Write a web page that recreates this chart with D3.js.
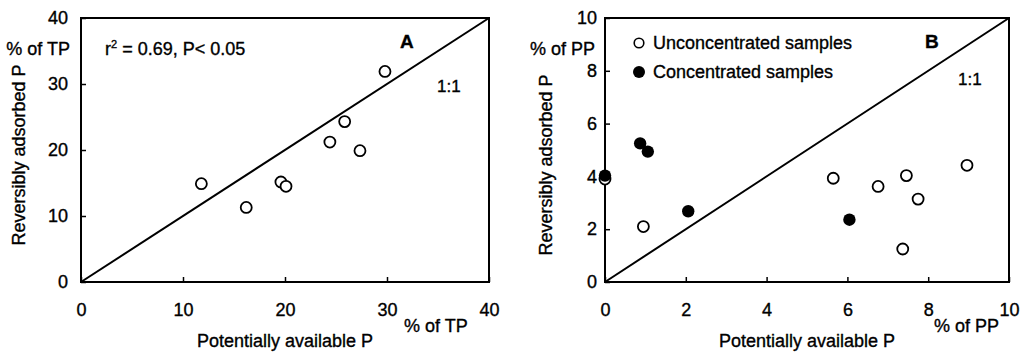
<!DOCTYPE html>
<html>
<head>
<meta charset="utf-8">
<script src="https://d3js.org/d3.v7.min.js"></script>
<style>
  body { margin: 0; background: #fff; }
  text { font-family: "Liberation Sans", Arial, sans-serif; fill: #000; stroke: #000; stroke-width: 0.35px; }
  .axis path { display: none; }
  .axis line { stroke: #000; stroke-width: 1.5; }
  .axis text { font-size: 18px; }
</style>
</head>
<body>
<svg id="chart" width="1028" height="352"></svg>
<script>
// panel A - % of TP
var aTicks = [0, 10, 20, 30, 40];
var aX = [11.8, 16.2, 19.6, 20.1, 24.4, 25.85, 27.35, 29.8];
var aY = [14.9, 11.3, 15.15, 14.5, 21.2, 24.3, 19.9, 31.9];

// panel B - % of PP
var bTicks = [0, 2, 4, 6, 8, 10];
var bOpenX = [0, 0.95, 5.65, 6.76, 7.46, 7.75, 7.37, 8.96];
var bOpenY = [3.9, 2.1, 3.93, 3.62, 4.03, 3.14, 1.25, 4.42];
var bFillX = [0, 0.87, 1.06, 2.06, 6.05];
var bFillY = [4.03, 5.25, 4.94, 2.68, 2.36];

var svg = d3.select("#chart");

function panel(opt) {
  var x = d3.scaleLinear().domain([0, opt.max]).range([opt.left, opt.right]);
  var y = d3.scaleLinear().domain([0, opt.max]).range([opt.bottom, opt.top]);
  var g = svg.append("g");

  // axes (inner ticks)
  g.append("g").attr("class", "axis")
    .attr("transform", "translate(0," + opt.bottom + ")")
    .call(d3.axisBottom(x).tickValues(opt.ticks).tickSize(-5).tickPadding(21));
  g.append("g").attr("class", "axis")
    .attr("transform", "translate(" + opt.left + ",0)")
    .call(d3.axisLeft(y).tickValues(opt.ticks).tickSize(-5).tickPadding(opt.yPad));

  // frame
  g.append("rect")
    .attr("x", opt.left).attr("y", opt.top)
    .attr("width", opt.right - opt.left).attr("height", opt.bottom - opt.top)
    .attr("fill", "none").attr("stroke", "#000").attr("stroke-width", 2);

  // 1:1 line
  g.append("line")
    .attr("x1", x(0)).attr("y1", y(0))
    .attr("x2", x(opt.max)).attr("y2", y(opt.max))
    .attr("stroke", "#000").attr("stroke-width", 2);

  // labels
  var mid = (opt.left + opt.right) / 2;
  g.append("text").attr("x", mid).attr("y", 347)
    .attr("text-anchor", "middle").attr("font-size", 18)
    .text("Potentially available P");
  g.append("text")
    .attr("transform", "translate(" + opt.yTitleX + "," + opt.yTitleY + ") rotate(-90)")
    .attr("text-anchor", "middle").attr("font-size", 18)
    .text("Reversibly adsorbed P");
  g.append("text").attr("x", opt.unitYX).attr("y", 55)
    .attr("text-anchor", "end").attr("font-size", 18)
    .text(opt.unit);
  g.append("text").attr("x", opt.unitXX).attr("y", 332)
    .attr("font-size", 18).text(opt.unit);
  g.append("text").attr("x", opt.letterX).attr("y", 48)
    .attr("font-size", 19).attr("font-weight", "bold").text(opt.letter);
  g.append("text").attr("x", opt.oneX).attr("y", opt.oneY)
    .attr("font-size", 17).text("1:1");

  return { g: g, x: x, y: y };
}

var A = panel({
  left: 81, right: 489, top: 18, bottom: 282, max: 40, ticks: aTicks,
  yPad: 13, yTitleX: 25, yTitleY: 155, unit: "% of TP", unitYX: 70, unitXX: 404,
  letter: "A", letterX: 400, oneX: 437, oneY: 92
});

A.g.selectAll(".pa").data(aX).enter().append("circle")
  .attr("cx", function(d) { return A.x(d); })
  .attr("cy", function(d, i) { return A.y(aY[i]); })
  .attr("r", 5.5).attr("fill", "#fff").attr("stroke", "#000").attr("stroke-width", 1.8);

var rt = A.g.append("text").attr("x", 105).attr("y", 55).attr("font-size", 18);
rt.append("tspan").text("r");
rt.append("tspan").attr("font-size", 11).attr("dy", -7).text("2");
rt.append("tspan").attr("dy", 7).text(" = 0.69, P< 0.05");

var B = panel({
  left: 605, right: 1009, top: 18, bottom: 282, max: 10, ticks: bTicks,
  yPad: 8, yTitleX: 552, yTitleY: 165, unit: "% of PP", unitYX: 595, unitXX: 934,
  letter: "B", letterX: 925, oneX: 958, oneY: 85
});

B.g.selectAll(".po").data(bOpenX).enter().append("circle")
  .attr("cx", function(d) { return B.x(d); })
  .attr("cy", function(d, i) { return B.y(bOpenY[i]); })
  .attr("r", 5.5).attr("fill", "#fff").attr("stroke", "#000").attr("stroke-width", 1.8);

B.g.selectAll(".pf").data(bFillX).enter().append("circle")
  .attr("cx", function(d) { return B.x(d); })
  .attr("cy", function(d, i) { return B.y(bFillY[i]); })
  .attr("r", 6.2).attr("fill", "#000");

// legend
var leg = B.g.append("g");
leg.append("circle").attr("cx", 639).attr("cy", 43).attr("r", 4.8)
  .attr("fill", "#fff").attr("stroke", "#000").attr("stroke-width", 1.6);
leg.append("text").attr("x", 653).attr("y", 49).attr("font-size", 18).text("Unconcentrated samples");
leg.append("circle").attr("cx", 639).attr("cy", 72).attr("r", 6).attr("fill", "#000");
leg.append("text").attr("x", 653).attr("y", 78).attr("font-size", 18).text("Concentrated samples");
</script>
</body>
</html>
